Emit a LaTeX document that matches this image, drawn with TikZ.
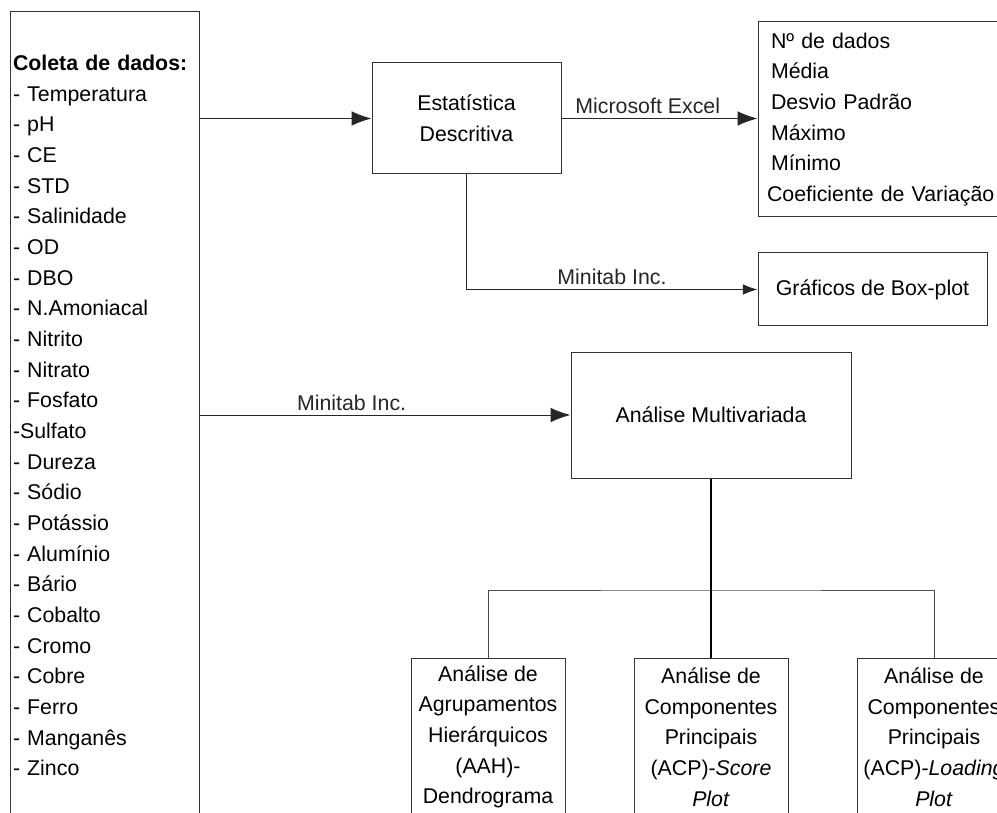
\documentclass[tikz,border=0pt]{standalone}
\usepackage{fontspec}
\setmainfont{Liberation Sans}
\usepackage{tikz}
\usetikzlibrary{arrows.meta}

\begin{document}
\begin{tikzpicture}[x=0.75pt,y=-0.75pt,>={Latex[length=15pt,width=11pt]},
  caixa/.style={draw=black!80,line width=0.75pt,inner sep=0pt,align=center,
    font=\fontsize{16}{23}\selectfont},
  rotulo/.style={font=\fontsize{16}{23}\selectfont,inner sep=3pt},
  seta/.style={->,line width=0.75pt,black!85},
  ramo/.style={line width=0.75pt,black!70},
  tronco/.style={line width=1.5pt,black}]
                % The page
                \clip (0,0) rectangle (997,813);
                \fill[white] (0,0) rectangle (997,813);
                % The data list
                \node[caixa,minimum width=141.75pt,minimum height=605.25pt,
                  text width=137.25pt,align=left] (dados) at (104.5,415.5)
                  {\textbf{Coleta de dados:}\\- Temperatura\\- pH\\- CE\\- STD\\
                   - Salinidade\\- OD\\- DBO\\- N.Amoniacal\\- Nitrito\\- Nitrato\\
                   - Fosfato\\-Sulfato\\- Dureza\\- Sódio\\- Potássio\\- Alumínio\\
                   - Bário\\- Cobalto\\- Cromo\\- Cobre\\- Ferro\\- Manganês\\- Zinco};
                % The upper boxes
                \node[caixa,minimum width=141.75pt,minimum height=83.25pt] (est)
                  at (466.5,118.5) {Estatística\\Descritiva};
                \node[caixa,minimum width=185.25pt,minimum height=146.25pt,
                  text width=171.75pt,align=left] (res) at (881.5,119.5)
                  {\hspace{3pt}Nº de dados\\\hspace{3pt}Média\\\hspace{3pt}Desvio Padrão\\
                   \hspace{3pt}Máximo\\\hspace{3pt}Mínimo\\Coeficiente de Variação};
                \node[caixa,minimum width=171.75pt,minimum height=54.75pt] (bp)
                  at (872.5,289.5) {Gráficos de Box-plot};
                \node[caixa,minimum width=210pt,minimum height=94.5pt] (multi)
                  at (711,415) {Análise Multivariada};
                % The lower boxes
                \node[caixa,minimum width=115.5pt,minimum height=118.5pt] (aah)
                  at (488,737) {Análise de\\Agrupamentos\\Hierárquicos\\(AAH)-\\Dendrograma};
                \node[caixa,minimum width=115.5pt,minimum height=118.5pt] (score)
                  at (711,737) {Análise de\\Componentes\\Principais\\(ACP)-\textit{Score}\\\textit{Plot}};
                \node[caixa,minimum width=115.5pt,minimum height=118.5pt] (loading)
                  at (934,737) {Análise de\\Componentes\\Principais\\(ACP)-\textit{Loading}\\\textit{Plot}};
                \coordinate (galho) at (711,590);
                % The arrows
                \draw[seta] (dados.east |- est.west) -- (est.west);
                \draw[seta] (est.east) -- node[rotulo,above,pos=0.44] {Microsoft Excel}
                  (est.east -| res.west);
                \draw[seta,-{Latex[length=11pt,width=8pt]}] (est.south) |-
                  node[rotulo,above,pos=0.75] {Minitab Inc.} (bp.west);
                \draw[seta] (dados.east |- multi.west) -- node[rotulo,above,pos=0.41]
                  {Minitab Inc.} (multi.west);
                % The tree
                \draw[ramo] (aah.north) |- (galho) -| (loading.north);
                \draw[tronco] (multi.south) -- (score.north);
\end{tikzpicture}
\end{document}
